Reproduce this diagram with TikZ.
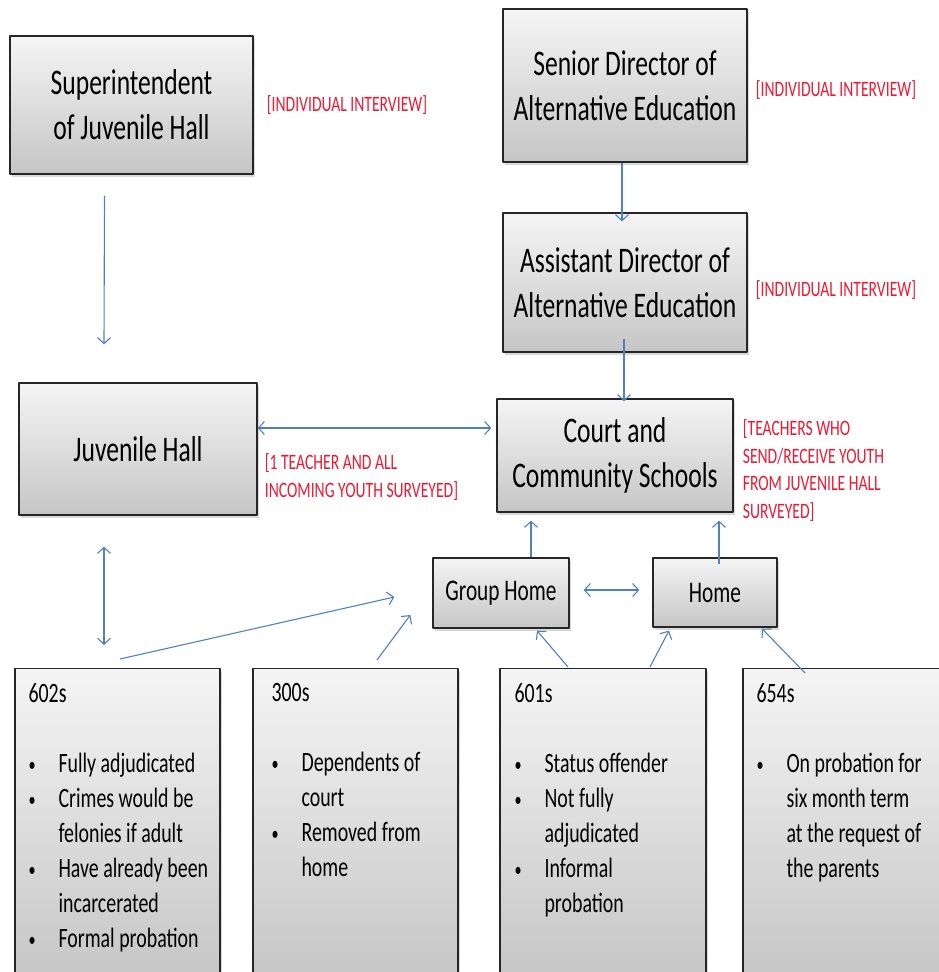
\documentclass[tikz,border=0pt]{standalone}
\usepackage{fontspec}
\setmainfont{Carlito}[FakeStretch=0.71]
\usepackage{tikz}
\usetikzlibrary{arrows.meta,positioning,shadows}
\definecolor{flowblue}{rgb}{0.31,0.51,0.74}
\definecolor{notered}{rgb}{0.93,0.10,0.20}
\newcommand{\itm}[1]{\makebox[30pt][l]{\raisebox{1pt}{\fontsize{20}{20}\selectfont\textbullet}}#1}
\newcommand{\cnt}[1]{\hspace*{30pt}#1}

\begin{document}
\begin{tikzpicture}[x=1pt,y=-1pt,>={Straight Barb[length=6pt,width=13pt]},
                    line join=round]
  \tikzstyle{box}=[draw=black!85,line width=1.3pt,top color=gray!8,bottom color=gray!45,
                   drop shadow={opacity=0.3,shadow xshift=2pt,shadow yshift=-3pt},
                   align=center,inner sep=0pt,font=\fontsize{36}{45}\selectfont]
  \tikzstyle{smallbox}=[box,font=\fontsize{30}{36}\selectfont]
  \tikzstyle{listbox}=[box,minimum width=205pt,minimum height=310pt]
  \tikzstyle{listtext}=[align=left,inner sep=0pt,font=\fontsize{28}{35}\selectfont]
  \tikzstyle{note}=[text=notered,align=left,inner sep=0pt,font=\fontsize{22}{27.5}\selectfont]
  \tikzstyle{flow}=[->,draw=flowblue,line width=1.1pt]

  \useasboundingbox (0,0) rectangle (939,972);
  \clip (0,0) rectangle (939,972);

  % upper boxes
  \node[box,minimum width=243pt,minimum height=138pt] (sup)  at (131.5,105)
       {Superintendent\\of Juvenile Hall};
  \node[box,minimum width=244pt,minimum height=153pt] (sen)  at (625,85.5)
       {Senior Director of\\Alternative Education};
  \node[box,minimum width=244pt,minimum height=139pt] (asst) at (625,282.5)
       {Assistant Director of\\Alternative Education};
  \node[box,minimum width=238pt,minimum height=132pt] (juv)  at (138,449)
       {Juvenile Hall};
  \node[box,minimum width=236pt,minimum height=113pt] (ct)   at (615,455.5)
       {Court and\\Community Schools};
  \node[smallbox,minimum width=136pt,minimum height=70pt] (gh) at (501,593) {Group Home};
  \node[smallbox,minimum width=124pt,minimum height=69pt] (hm) at (715,592.5) {Home};

  % notes
  \node[note,right=13pt of sup] (supnote) {[INDIVIDUAL INTERVIEW]};
  \node[note,right=8pt of sen,yshift=-4.5pt] (sennote) {[INDIVIDUAL INTERVIEW]};
  \node[note,right=8pt of asst,yshift=-7.5pt] (asstnote) {[INDIVIDUAL INTERVIEW]};
  \node[note,anchor=north west] (juvnote) at ([xshift=7pt,yshift=-4.5pt]juv.east)
       {[1 TEACHER AND ALL\\INCOMING YOUTH SURVEYED]};
  \node[note,anchor=north west] (ctnote) at ([xshift=9pt,yshift=-21.5pt]ct.north east)
       {[TEACHERS WHO\\SEND/RECEIVE YOUTH\\FROM JUVENILE HALL\\SURVEYED]};

  % lower boxes
  \node[listbox,anchor=north] (b602) at (117.5,668) {};
  \node[listbox,anchor=north] (b300) at (355.5,668) {};
  \node[listbox,anchor=north,minimum width=206pt] (b601) at (603,668) {};
  \node[listbox,anchor=north,minimum width=206pt] (b654) at (846,668) {};

  \node[listtext,anchor=north west] (t602) at ([xshift=14pt,yshift=-15pt]b602.north west)
       {602s\\[35pt]\itm{Fully adjudicated}\\\itm{Crimes would be}\\\cnt{felonies if adult}\\
        \itm{Have already been}\\\cnt{incarcerated}\\\itm{Formal probation}};
  \node[listtext,anchor=north west] (t300) at ([xshift=19pt,yshift=-15pt]b300.north west)
       {300s\\[35pt]\itm{Dependents of}\\\cnt{court}\\\itm{Removed from}\\\cnt{home}};
  \node[listtext,anchor=north west] (t601) at ([xshift=15pt,yshift=-15pt]b601.north west)
       {601s\\[35pt]\itm{Status offender}\\\itm{Not fully}\\\cnt{adjudicated}\\
        \itm{Informal}\\\cnt{probation}};
  \node[listtext,anchor=north west] (t654) at ([xshift=14pt,yshift=-15pt]b654.north west)
       {654s\\[35pt]\itm{On probation for}\\\cnt{six month term}\\\cnt{at the request of}\\
        \cnt{the parents}};

  % connectors
  \draw[flow] ([xshift=-27pt,yshift=-21pt]sup.south) -- ([xshift=-34pt,yshift=38pt]juv.north);
  \draw[flow] ([xshift=-3pt]sen.south) -- ([xshift=-3pt,yshift=-9pt]asst.north);
  \draw[flow] ([xshift=-1pt,yshift=14pt]asst.south) -- ([xshift=9pt,yshift=-3pt]ct.north);
  \draw[flow,<->] ([yshift=21pt]juv.east) -- ([xshift=-5pt,yshift=27.5pt]ct.west);
  \draw[flow,<->] ([xshift=-34pt,yshift=-31pt]juv.south) -- ([xshift=-13.5pt,yshift=23pt]b602.north);
  \draw[flow] ([xshift=2.5pt,yshift=9pt]b602.north) -- ([xshift=-38pt,yshift=-4pt]gh.west);
  \draw[flow] ([xshift=21.5pt,yshift=8pt]b300.north) -- ([xshift=-22pt,yshift=-22pt]gh.west);
  \draw[flow] ([xshift=30pt]gh.north) -- ([xshift=-84pt,yshift=-8pt]ct.south);
  \draw[flow] ([xshift=4pt,yshift=-7pt]hm.north) -- ([xshift=104pt,yshift=-8pt]ct.south);
  \draw[flow,<->] ([xshift=14pt,yshift=3pt]gh.east) -- ([xshift=-13pt,yshift=2.5pt]hm.west);
  \draw[flow] ([xshift=-35pt,yshift=1pt]b601.north) -- ([xshift=36pt,yshift=-2pt]gh.south);
  \draw[flow] ([xshift=47pt,yshift=1pt]b601.north) -- ([xshift=-46pt,yshift=-3pt]hm.south);
  \draw[flow] ([xshift=-41pt,yshift=-5pt]b654.north) -- ([xshift=47pt,yshift=-1pt]hm.south);

\end{tikzpicture}
\end{document}
